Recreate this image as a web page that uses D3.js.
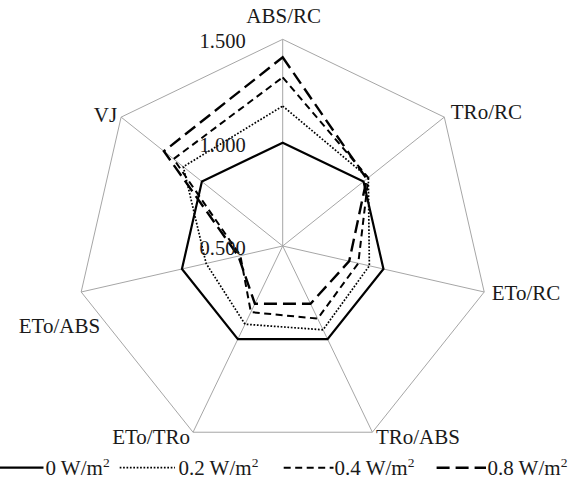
<!DOCTYPE html>
<html>
<head>
<meta charset="utf-8">
<script src="https://cdn.jsdelivr.net/npm/d3@7"></script>
<style>
  html, body { margin: 0; padding: 0; background: #fff; }
  svg { display: block; }
  text { font-family: "Times New Roman", "Liberation Serif", serif; fill: #1a1a1a; }
</style>
</head>
<body>
<svg id="chart" width="575" height="487"></svg>
<script>
// Chlorophyll fluorescence parameters, relative to the 0 W/m² control
const categories = ["ABS/RC", "TRo/RC", "ETo/RC", "TRo/ABS", "ETo/TRo", "ETo/ABS", "VJ"];
const seriesNames = ["0", "0.2", "0.4", "0.8"];
const values0 = [1.000, 1.000, 1.000, 1.000, 1.000, 1.000, 1.000];
const values02 = [1.177, 1.030, 0.930, 0.950, 0.920, 0.880, 1.115];
const values04 = [1.316, 1.030, 0.875, 0.890, 0.855, 0.710, 1.175];
const values08 = [1.413, 1.020, 0.830, 0.810, 0.810, 0.720, 1.235];
const tickValues = [0.5, 1.0, 1.5];
const tickLabels = ["0.500", "1.000", "1.500"];

const svg = d3.select("#chart");
const cx = 282.7, cy = 246, R = 206.7;

const r = d3.scaleLinear().domain([0.5, 1.5]).range([0, R]);
const angle = d3.scalePoint().domain(categories).range([0, 2 * Math.PI * (categories.length - 1) / categories.length]);

const px = (cat, v) => cx + r(v) * Math.sin(angle(cat));
const py = (cat, v) => cy - r(v) * Math.cos(angle(cat));

const g = svg.append("g");

// spokes
g.selectAll("line.spoke").data(categories).join("line")
  .attr("class", "spoke")
  .attr("x1", cx).attr("y1", cy)
  .attr("x2", d => px(d, 1.5)).attr("y2", d => py(d, 1.5))
  .attr("stroke", "#a6a6a6").attr("stroke-width", 1);

// outer frame
const frame = d3.line().curve(d3.curveLinearClosed);
g.append("path")
  .attr("d", frame(categories.map(c => [px(c, 1.5), py(c, 1.5)])))
  .attr("fill", "none").attr("stroke", "#a6a6a6").attr("stroke-width", 1);

// series
const styles = [
  { w: 2.2, dash: null },
  { w: 1.7, dash: "1.7,1.7" },
  { w: 2.0, dash: "7,4.5" },
  { w: 2.4, dash: "13,6" }
];
const seriesData = [values0, values02, values04, values08];

seriesData.forEach((vals, i) => {
  g.append("path")
    .attr("d", frame(categories.map((c, k) => [px(c, vals[k]), py(c, vals[k])])))
    .attr("fill", "none")
    .attr("stroke", "#000")
    .attr("stroke-width", styles[i].w)
    .attr("stroke-dasharray", styles[i].dash)
    .attr("stroke-linejoin", "miter");
});

// radial tick labels on the first axis
g.selectAll("text.tick").data(tickValues).join("text")
  .attr("class", "tick")
  .attr("x", cx - 37)
  .attr("y", d => cy - r(d) + 2)
  .attr("dy", "0.35em")
  .attr("text-anchor", "end")
  .attr("font-size", 20.5)
  .text((d, i) => tickLabels[i]);

// category labels
const labelPos = {
  "ABS/RC":  { dx: 1,   dy: -16.6, anchor: "middle" },
  "TRo/RC":  { dx: 6.5, dy: 1.5,   anchor: "start" },
  "ETo/RC":  { dx: 7.5, dy: 8,     anchor: "start" },
  "TRo/ABS": { dx: 3.5, dy: 12,    anchor: "start" },
  "ETo/TRo": { dx: -3,  dy: 12,    anchor: "end" },
  "ETo/ABS": { dx: 19,  dy: 41,    anchor: "end" },
  "VJ":      { dx: -4,  dy: 5,     anchor: "end" }
};
g.selectAll("text.cat").data(categories).join("text")
  .attr("class", "cat")
  .attr("x", d => px(d, 1.5) + labelPos[d].dx)
  .attr("y", d => py(d, 1.5) + labelPos[d].dy)
  .attr("text-anchor", d => labelPos[d].anchor)
  .attr("font-size", 21)
  .text(d => d);

// legend
const legendItems = [
  { x0: 0, x1: 43.5, tx: 45.5 },
  { x0: 119.7, x1: 175, tx: 178.5 },
  { x0: 283.7, x1: 333.5, tx: 334.6 },
  { x0: 436.6, x1: 486, tx: 487.5 }
];
const ly = 467.7;
legendItems.forEach((it, i) => {
  svg.append("line")
    .attr("x1", it.x0).attr("x2", it.x1)
    .attr("y1", ly).attr("y2", ly)
    .attr("stroke", "#000")
    .attr("stroke-width", styles[i].w)
    .attr("stroke-dasharray", styles[i].dash);
  const t = svg.append("text")
    .attr("x", it.tx).attr("y", ly + 7)
    .attr("font-size", 21);
  t.append("tspan").text(seriesNames[i] + " W/m");
  t.append("tspan").attr("font-size", 13.5).attr("dy", -8).text("2");
});
</script>
</body>
</html>
